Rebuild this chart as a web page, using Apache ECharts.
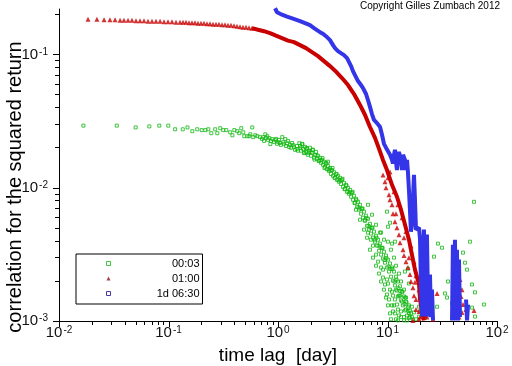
<!DOCTYPE html>
<html><head><meta charset="utf-8">
<script src="https://cdn.jsdelivr.net/npm/echarts@6/dist/echarts.min.js"></script>
<style>html,body{margin:0;padding:0;background:#fff}#c{width:512px;height:366px}</style>
</head><body><div id="c"></div><script>
const xMajorTicks = [0.01, 0.1, 1, 10, 100];
const xMinorTicks = [0.02,0.03,0.04,0.05,0.06,0.07,0.08,0.09,0.2,0.3,0.4,0.5,0.6,0.7,0.8,0.9,2,3,4,5,6,7,8,9,20,30,40,50,60,70,80,90];
const yMajorTicks = [0.001, 0.01, 0.1];
const yMinorTicks = [0.002,0.003,0.004,0.005,0.006,0.007,0.008,0.009,0.02,0.03,0.04,0.05,0.06,0.07,0.08,0.09,0.2];
const seriesNames = ['00:03', '01:00', '1d 06:30'];

// 00:03 (green squares): [lag in days, correlation]
const greenPoints = [
[0.0167,0.0293],[0.0337,0.0293],[0.0501,0.0284],[0.0668,0.0289],[0.0824,0.0293],[0.0996,0.0293],[0.115,0.0275],[0.135,0.0275],[0.149,0.0284],[0.165,0.0266],[0.183,0.0275],[0.201,0.0271],[0.217,0.0271],[0.231,0.0275],[0.246,0.0257],[0.267,0.0275],[0.279,0.0257],[0.297,0.0280],[0.316,0.0271],[0.337,0.0271],[0.366,0.0261],[0.383,0.0248],[0.399,0.0271],[0.425,0.0266],[0.443,0.0257],[0.462,0.0280],[0.482,0.0261],[0.492,0.0244],[0.525,0.0244],[0.547,0.0244],[0.558,0.0252],[0.582,0.0284],[0.594,0.0240],[0.621,0.0248],[0.647,0.0244],[0.685,0.0240],[0.734,0.0240],[0.766,0.0252],[0.798,0.0244],[0.833,0.0236],[0.851,0.0213],[0.887,0.0232],[0.944,0.0228],[1.006,0.0220],[1.094,0.0240],[1.117,0.0220],[1.166,0.0232],[1.216,0.0216],[1.268,0.0202],[1.380,0.0209],[1.482,0.0195],[1.566,0.0216],
[0.715,0.0233],[0.746,0.0225],[0.777,0.0237],[0.811,0.0229],[0.863,0.0225],[0.920,0.0221],[0.960,0.0233],[0.980,0.0214],[1.020,0.0229],[1.042,0.0217],[1.064,0.0210],[1.135,0.0214],[1.184,0.0206],[1.234,0.0225],[1.288,0.0210],[1.315,0.0200],[1.343,0.0217],[1.399,0.0203],[1.429,0.0193],[1.490,0.0206],[1.522,0.0190],
[1.589,0.0206],[1.623,0.0190],[1.657,0.0214],[1.693,0.0196],[1.729,0.0183],[1.766,0.0203],[1.804,0.0186],[1.842,0.0196],[1.881,0.0177],[1.918,0.0190],[1.959,0.0200],[2.001,0.0174],[2.043,0.0183],[2.087,0.0193],[2.133,0.0168],[2.178,0.0177],[2.224,0.0186],[2.272,0.0165],[2.321,0.0174],[2.370,0.0159],[2.421,0.0168],[2.473,0.0154],[2.525,0.0162],[2.574,0.0149],[2.629,0.0157],[2.685,0.0144],[2.742,0.0154],[2.800,0.0138],[2.861,0.0146],[2.923,0.0134],[2.985,0.0141],[3.049,0.0127],[3.114,0.0136],[3.181,0.0123],[3.250,0.0131],[3.319,0.0119],[3.390,0.0127],[3.462,0.01148],[3.529,0.0123],[3.604,0.0111],[3.681,0.0119],[3.759,0.0107],[3.840,0.01148],[3.924,0.01017],[4.008,0.0109],[4.093,0.00983],[4.180,0.01053],[4.272,0.00933],[4.362,0.0100],[4.455,0.00902],[4.550,0.00966],[4.647,0.00857],[4.746,0.00918],[4.838,0.00813],[4.941,0.00872],[5.047,0.00772],[5.154,0.00827],[5.264,0.00721],[5.378,0.00785],[5.493,0.00685],[5.610,0.00746],[5.729,0.00639],[5.852,0.00697],[5.979,0.00596],[6.107,0.00662],[6.237,0.00566],[6.370,0.00617],[6.506,0.00519],[6.632,0.00586],[6.773,0.00485],[6.918,0.00537],[7.065,0.00453],[7.216,0.00502],[7.373,0.00422],[7.530,0.00469],[7.691,0.00394],[7.855,0.00437],[8.022,0.00368],[8.198,0.00408],[8.373,0.00337],[8.551,0.00381],[8.733,0.00315],[8.920,0.00355],[9.092,0.00294],[9.286,0.00331],[9.484,0.00274],[9.686,0.00310],[9.892,0.00252],[10.10,0.00289],[10.32,0.00235],[10.54,0.00270],[10.76,0.00215],[10.99,0.00252],[11.22,0.00201],[11.46,0.00235],[11.70,0.00185],[11.95,0.00215],[12.20,0.00169],[12.46,0.00198],[12.73,0.00155],[13.00,0.00182],[13.28,0.00143],[13.56,0.00166],[13.85,0.00131],[14.15,0.00153],[14.45,0.00120],[14.76,0.00140],[15.07,0.00110],[15.37,0.00128],[15.70,0.00105],[16.03,0.00120],[16.72,0.00107],[17.45,0.00116],[18.20,0.00103],
[1.606,0.0200],[1.675,0.0212],[1.747,0.0182],[1.823,0.0199],[1.901,0.0183],[1.980,0.0185],[2.065,0.0193],[2.156,0.0163],[2.248,0.0176],[2.346,0.0160],[2.447,0.0161],[2.552,0.0167],[2.657,0.0141],[2.771,0.0152],[2.891,0.0137],[3.017,0.0137],[3.147,0.0141],[3.284,0.01188],[3.426,0.01267],[3.566,0.0114],[3.720,0.01143],[3.881,0.01168],[4.050,0.00976],[4.224,0.01039],[4.408,0.00930],[4.598,0.00920],[4.796,0.00933],[4.993,0.00770],[5.209,0.00807],[5.435,0.00713],[5.669,0.00697],[5.914,0.00699],[6.172,0.00570],[6.438,0.00592],[6.702,0.00517],[6.991,0.00502],[7.292,0.00502],[7.610,0.00408],[7.938,0.00422],[8.285,0.00368],[8.642,0.00355],[9.015,0.00353],[9.384,0.00287],[9.789,0.00296],[10.21,0.00256],[10.65,0.00247],[11.11,0.00245],[11.58,0.00198],[12.08,0.00204],[12.59,0.00176],[13.14,0.00168],[13.70,0.00166],[14.30,0.00134],[14.92,0.00138],[15.53,0.00119],
[5.154,0.00685],[5.610,0.00576],[6.107,0.00485],[6.506,0.00422],[6.918,0.00343],[7.373,0.00299],[7.855,0.00260],[8.373,0.00227],[8.733,0.00198],[9.286,0.00172],[9.686,0.00150],[10.10,0.00131],[10.54,0.00114],[10.76,0.00103],
[6.632,0.00746],[7.216,0.00628],[7.855,0.00528],[8.551,0.00461],[9.286,0.00408],[10.10,0.00394],[10.76,0.00343],[11.46,0.00299],[11.95,0.00260],[12.73,0.00227],[13.28,0.00198],[14.15,0.00172],[14.76,0.00150],[15.70,0.00131],[16.37,0.00114],[17.08,0.00103],
[9.092,0.00243],[9.892,0.00205],[10.99,0.00166],[11.70,0.00145],[12.46,0.00122],[13.28,0.00107],[11.22,0.00118],[11.95,0.00103],[14.15,0.00101],[12.73,0.00110],[11.46,0.00131],
[10.32,0.00145],[10.99,0.00131],[11.70,0.00114],[12.46,0.00101],[13.28,0.00118],[14.15,0.00107],[15.07,0.00101],[16.03,0.00107],[13.56,0.00140],[10.54,0.00172],[11.22,0.00155],[9.892,0.00158],[9.484,0.00188],[10.10,0.00191],[9.092,0.00212],[8.733,0.00252],[8.198,0.00279],[7.855,0.00315],[7.373,0.00368],[7.065,0.00408],[6.632,0.00461],[14.76,0.00122],[15.70,0.00114],[12.20,0.00133],[13.00,0.00155],[11.95,0.00172],
[2.861,0.0157],[61.63,0.00785],[9.892,0.00662],[10.54,0.00547],[10.10,0.00510],[8.733,0.00461],[11.70,0.00394],[10.99,0.00381],[28.89,0.00381],[31.43,0.00355],[26.59,0.00304],[48.92,0.00326],[56.62,0.00394],[51.05,0.00274],[15.37,0.00247],[14.45,0.00235],[53.25,0.00243],[35.70,0.00198],[59.06,0.00188],[15.70,0.00191],[33.50,0.00161],[34.95,0.00150],[62.95,0.00164],[14.45,0.00150],[12.46,0.00153],[28.36,0.00128],[16.72,0.00128],[62.95,0.00108],[59.06,0.00126],[19.41,0.00128],[19.41,0.00108],[44.0,0.00112],[19.82,0.00118],[21.98,0.00105],[38.84,0.00135],[75.97,0.00133]
];

// 01:00 (red triangles), separated points of the flat head
const redPoints = [
[0.0184,0.1845],[0.0222,0.1845],[0.0258,0.1829],[0.0292,0.1829],[0.0325,0.1829],[0.0361,0.1813],[0.0392,0.1813],[0.0427,0.1813],[0.0464,0.1813],[0.0505,0.1797],[0.0549,0.1797],[0.0597,0.1797],[0.0650,0.1782],[0.0707,0.1782],[0.0769,0.1782],[0.0837,0.1782],[0.0910,0.1766],[0.0989,0.1766],[0.1076,0.1766],[0.1171,0.1751],[0.1274,0.1751],[0.1357,0.1751],[0.1445,0.1751],[0.1539,0.1736],[0.1639,0.1736],[0.1746,0.1736],[0.1859,0.1721],[0.1980,0.1721],[0.2109,0.1721],[0.2246,0.1706],[0.2393,0.1706],[0.2548,0.1692],[0.2714,0.1692],[0.2891,0.1692],[0.3079,0.1677],[0.3281,0.1677],[0.3494,0.1663],[0.3722,0.1663],[0.3964,0.1649],[0.4222,0.1635],[0.4498,0.1621],[0.4791,0.1607],[0.5103,0.1607],[0.5435,0.1594],[0.5789,0.1580]
];
// 01:00 dense middle part
const redLinePoints = [
[0.5789,0.1580],[0.6569,0.1538],[0.7450,0.1499],[0.8453,0.1448],[0.9587,0.1387],[1.0877,0.1329],[1.234,0.1273],[1.400,0.1240],[1.589,0.1178],[1.802,0.1118],[2.044,0.1043],[2.319,0.0974],[2.631,0.0894],[2.985,0.0820],[3.386,0.0745],[3.841,0.0667],[4.358,0.0591],[4.944,0.0506],[5.610,0.0419],[6.237,0.0352],[6.918,0.0286],[7.691,0.0237],[8.373,0.0196],[9.092,0.0162],[9.892,0.0136],[10.99,0.01053],[12.20,0.00857],[13.28,0.00685],[14.45,0.00528],[15.70,0.00408],[16.72,0.00315],[17.82,0.00243],[19.41,0.00188],[19.82,0.00145],[20.65,0.00118],[21.53,0.00101]
];
// 01:00 noisy tail
const redTailPoints = [
[9.092,0.0125],[10.54,0.01314],[9.686,0.01000],[11.46,0.00933],[10.54,0.00813],[12.46,0.00746],[11.22,0.00639],[13.56,0.00596],[12.20,0.00502],[14.76,0.00469],[13.00,0.00387],[16.37,0.00368],[14.15,0.00310],[17.45,0.00279],[15.37,0.00252],[18.20,0.00219],[16.37,0.00198],[19.41,0.00172],[17.45,0.00155],[20.24,0.00133],[18.20,0.00122],[21.98,0.00110],[19.41,0.00103],[22.92,0.00107],[17.08,0.00101],
[9.484,0.01109],[10.32,0.00887],[10.99,0.00746],[11.70,0.00556],[12.73,0.00445],[13.85,0.00343],[14.76,0.00279],[16.03,0.00223],[17.08,0.00178],[18.20,0.00145],[19.41,0.00118],[10.10,0.01188],[11.95,0.00639],[14.15,0.00422],[15.70,0.00299],[17.82,0.00195],[19.82,0.00107],[21.09,0.00122],
[42.67,0.00243],[45.92,0.00205],[47.90,0.00172],[46.90,0.00153],[48.92,0.00133],[47.90,0.00116],[44.96,0.00107],[28.36,0.00161],[61.63,0.00120],[52.14,0.00122],[39.57,0.00145],[41.30,0.00112],[24.43,0.00118],[26.04,0.00103]
];
// 1d 06:30 (blue), null = gap
const bluePoints = [
[0.9397,0.2229],[0.9802,0.2080],[1.0877,0.1993],[1.209,0.1926],[1.370,0.1860],[1.589,0.1782],[1.766,0.1721],[1.959,0.1663],[2.133,0.1580],[2.272,0.1525],[2.421,0.1473],[2.574,0.1435],[2.742,0.1375],[2.985,0.1284],[3.181,0.1178],[3.319,0.1118],[3.529,0.1062],[3.759,0.1026],[4.008,0.0991],[4.272,0.0942],[4.455,0.0879],[4.647,0.0820],[4.838,0.0752],[5.047,0.0702],[5.378,0.0633],[5.729,0.0591],[5.979,0.0561],[6.370,0.0506],[6.632,0.0456],[6.918,0.0405],[7.216,0.0358],[7.530,0.0323],[8.022,0.0306],[8.551,0.0286],[8.920,0.0249],[9.286,0.0214],[9.686,0.0200],[10.10,0.0196],[10.54,0.0177],[10.99,0.0162],[11.22,0.0152],[11.46,0.0177],[11.70,0.0193],[11.95,0.0157],[12.20,0.0136],[12.46,0.0168],[12.73,0.0186],[13.28,0.0162],[13.56,0.0136],[13.85,0.0177],[14.45,0.0162],[14.76,0.0136],[15.07,0.0162],[15.37,0.01314],[15.70,0.00966],[16.03,0.00685],[16.37,0.00469],[16.72,0.00528],[17.08,0.00813],[17.45,0.0125],[17.82,0.00813],[18.20,0.00485],[19.41,0.00502],[19.82,0.00408],[20.24,0.00172],[20.65,0.00108],[21.09,0.00289],[21.53,0.00485],[21.98,0.00205],[22.45,0.00108],[22.92,0.00445],[23.42,0.00145],[23.92,0.00108],[24.43,0.00223],[24.95,0.00107],[25.48,0.00172],[26.04,0.00101],
null,
[38.84,0.00101],[39.57,0.00374],[40.45,0.00101],[41.30,0.00408],[42.18,0.00145],[43.08,0.00343],[44.00,0.00101],[44.96,0.00289],[45.92,0.00107],
null,
[52.14,0.00145],[53.25,0.00101],[54.39,0.00133]
];

const GREEN = '#14b814', RED = '#c80000', BLUE = '#3434e8';
const FONT = "'Liberation Sans', Arial, Helvetica, sans-serif";
const X_MIN = 0.01, X_MAX = 100, Y_MIN = 0.001, Y_MAX = 0.22;
const powLabel = v => '{b|10}{s|' + Math.round(Math.log10(v)) + '}';
const labelRich = {
  b: { fontSize: 15, fontFamily: FONT, color: '#111' },
  s: { fontSize: 10, fontFamily: FONT, color: '#111', verticalAlign: 'top', padding: [0, 0, 0, 1] }
};
const axisLineStyle = { color: '#000', width: 1 };
const lg = Math.log10;
const tickAxis = (extent, values, len, pos) => ({
  type: 'value', min: lg(extent[0]), max: lg(extent[1]), position: pos,
  axisLine: { show: false, onZero: false },
  axisTick: { show: true, inside: false, length: len, customValues: values.map(lg), lineStyle: axisLineStyle },
  axisLabel: { show: false }, splitLine: { show: false }
});

const textGraphics = [
  { type: 'text', x: 15, y: 187, rotation: Math.PI / 2,
    style: { text: 'correlation for the squared return', fontSize: 20, fontFamily: FONT, fill: '#000', align: 'center', verticalAlign: 'middle' } },
  { type: 'text', x: 278, y: 356,
    style: { text: 'time lag  [day]', fontSize: 19, fontFamily: FONT, fill: '#000', align: 'center', verticalAlign: 'middle' } },
  { type: 'text', right: 12, top: 1,
    style: { text: 'Copyright Gilles Zumbach 2012', fontSize: 10, fontFamily: FONT, fill: '#000' } }
];

const chart = echarts.init(document.getElementById('c'), null, { renderer: 'canvas' });
chart.setOption({
  animation: false,
  backgroundColor: '#fff',
  grid: { left: 59, right: 15, top: 9, bottom: 45, outerBoundsMode: 'none', containLabel: false },
  xAxis: [{
    type: 'log', logBase: 10, min: X_MIN, max: X_MAX, position: 'bottom',
    axisLine: { show: true, onZero: false, lineStyle: axisLineStyle },
    axisTick: { show: false },
    axisLabel: { customValues: xMajorTicks, formatter: powLabel, rich: labelRich, margin: 4 },
    splitLine: { show: false }
  }],
  yAxis: [{
    type: 'log', logBase: 10, min: Y_MIN, max: Y_MAX, position: 'left',
    axisLine: { show: true, onZero: false, lineStyle: axisLineStyle },
    axisTick: { show: false },
    axisLabel: { customValues: yMajorTicks, formatter: powLabel, rich: labelRich, margin: 11 },
    splitLine: { show: false }
  },
  tickAxis([Y_MIN, Y_MAX], yMajorTicks, 6, 'left'),
  tickAxis([Y_MIN, Y_MAX], yMinorTicks, 4, 'left')],
  legend: {
    orient: 'vertical', left: 76, top: 254,
    padding: [4, 3, 5, 30], itemWidth: 4, itemHeight: 4, itemGap: 4,
    borderColor: '#000', borderWidth: 1, borderRadius: 0, backgroundColor: '#fff',
    formatter: name => '{t|' + name + '}',
    textStyle: { rich: { t: { width: 84, align: 'right', fontSize: 11, lineHeight: 13, fontFamily: FONT, color: '#000' } } },
    data: [
      { name: seriesNames[0], icon: 'rect', itemStyle: { color: 'rgba(255,255,255,0)', borderColor: GREEN, borderWidth: 1 } },
      { name: seriesNames[1], icon: 'triangle', itemStyle: { color: '#8a1010' } },
      { name: seriesNames[2], icon: 'rect', itemStyle: { color: 'rgba(255,255,255,0)', borderColor: '#4a3aa0', borderWidth: 1 } }
    ]
  },
  graphic: textGraphics,
  series: [
    { name: seriesNames[0], type: 'scatter', symbol: 'rect', symbolSize: 3,
      itemStyle: { color: 'rgba(255,255,255,0)', borderColor: GREEN, borderWidth: 1 },
      data: greenPoints, z: 2 },
    { name: seriesNames[1], type: 'scatter', symbol: 'triangle', symbolSize: 5,
      itemStyle: { color: RED }, data: redPoints, z: 3 },
    { name: seriesNames[1], type: 'line', showSymbol: false, symbol: 'none',
      lineStyle: { color: RED, width: 4 }, data: redLinePoints, z: 3 },
    { name: seriesNames[1], type: 'scatter', symbol: 'triangle', symbolSize: 5,
      itemStyle: { color: RED }, data: redTailPoints, z: 3 },
    { name: seriesNames[2], type: 'line', showSymbol: false, symbol: 'none', connectNulls: false,
      lineStyle: { color: BLUE, width: 4 },
      data: bluePoints.map(p => p ? p : ['-', '-']), z: 4 },
    { name: seriesNames[2], type: 'scatter', symbol: 'rect', symbolSize: 4,
      itemStyle: { color: '#fff', borderColor: BLUE, borderWidth: 1 },
      data: [bluePoints[0]], z: 5 }
  ]
});

// x-axis tick marks, placed through the x axis scale
const axisY = Math.round(chart.convertToPixel({ yAxisIndex: 0 }, Y_MIN));
const xTickGraphics = xMajorTicks.map(v => [v, 6]).concat(xMinorTicks.map(v => [v, 4])).map(([v, len]) => {
  const px = Math.round(chart.convertToPixel({ xAxisIndex: 0 }, v)) + 0.5;
  return { type: 'line', z: 50, silent: true,
    shape: { x1: px, y1: axisY, x2: px, y2: axisY + len },
    style: { stroke: '#000', lineWidth: 1 } };
});
chart.setOption({ graphic: textGraphics.concat(xTickGraphics) });
</script></body></html>
